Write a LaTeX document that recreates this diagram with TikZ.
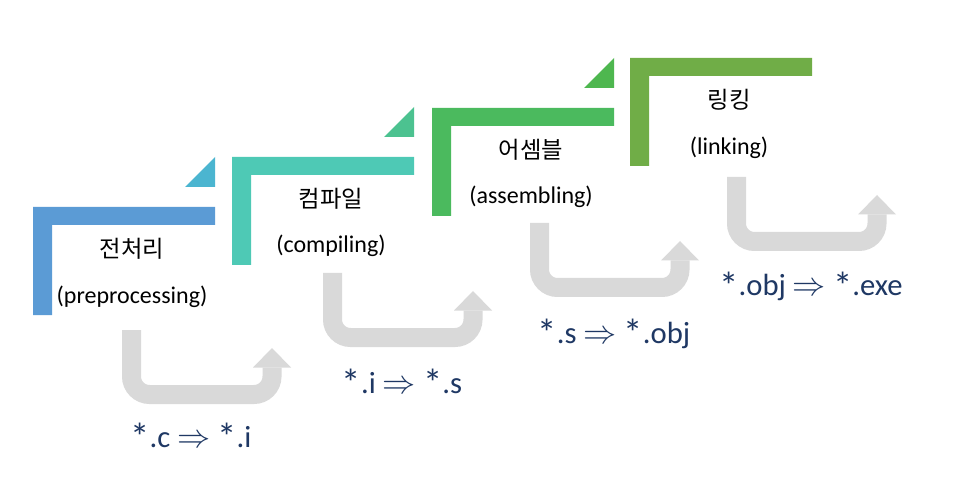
\documentclass[tikz,border=0pt]{standalone}
\usepackage{fontspec}
\setmainfont{Carlito}
\newfontfamily\krfont{Noto Sans CJK KR}
\definecolor{cA}{HTML}{5B9BD5}
\definecolor{tA}{HTML}{4BB5D0}
\definecolor{cB}{HTML}{4EC9B5}
\definecolor{tB}{HTML}{4CC290}
\definecolor{cC}{HTML}{4BBA5E}
\definecolor{tC}{HTML}{4EB74F}
\definecolor{cD}{HTML}{70AD47}
\definecolor{arrgray}{HTML}{D9D9D9}
\definecolor{lblblue}{HTML}{1F3864}
\newcommand\bigstar{\lower0.1em\hbox{\fontsize{29pt}{29pt}\selectfont *}}
\tikzset{
  krtext/.style={anchor=base, inner sep=0pt, font=\krfont\fontsize{17.5pt}{20pt}\selectfont},
  entext/.style={anchor=base, inner sep=0pt, font=\fontsize{18pt}{21pt}\selectfont},
  lbltext/.style={anchor=base, inner sep=0pt, text=lblblue, font=\fontsize{23pt}{27pt}\selectfont},
  ushaft/.style={draw=arrgray, line width=14.25pt, rounded corners=13.5pt},
  uhead/.style={fill=arrgray},
}
\newcommand\stepblock[3]{% x0, y0, colour
  \begin{scope}[shift={(#1,#2)}]
    \fill[#3] (0,0) -- (182,0) -- (182,18) -- (19,18) -- (19,108) -- (0,108) -- cycle;
  \end{scope}}
\newcommand\steptri[3]{%
  \begin{scope}[shift={(#1,#2)}]
    \fill[#3] (152,-20) -- (182,-20) -- (182,-50) -- cycle;
  \end{scope}}
\newcommand\uturn[3]{% L, T, name
  \begin{scope}[shift={(#1,#2)}]
    \coordinate (#3s) at (9.5,0);
    \coordinate (#3e) at (150,37.5);
    \draw[ushaft] (#3s) -- (9.5,64.5) -- (150,64.5) -- (#3e);
    \fill[uhead] (131,37.5) -- (169,37.5) -- (150,18) -- cycle;
  \end{scope}}
\begin{document}
\begin{tikzpicture}[x=0.75pt,y=-0.75pt]
\useasboundingbox (0,0) rectangle (960,495);
\fill[white] (0,0) rectangle (960,495);
% steps
\steptri{33}{207}{tA}
\steptri{232}{157}{tB}
\steptri{432}{108}{tC}
\stepblock{33}{207}{cA}
\stepblock{232}{157}{cB}
\stepblock{432}{108}{cC}
\stepblock{630}{58}{cD}
% texts
\node[krtext] (k1) at (132,258) {전처리};
\node[entext] (e1) at (132,303) {(preprocessing)};
\node[krtext] (k2) at (331,208) {컴파일};
\node[entext] (e2) at (331,253) {(compiling)};
\node[krtext] (k3) at (531,159) {어셈블};
\node[entext] (e3) at (531,204) {(assembling)};
\node[krtext] (k4) at (729,109) {링킹};
\node[entext] (e4) at (729,155) {(linking)};
% u-turn arrows
\uturn{122}{330}{a}
\uturn{323}{273}{b}
\uturn{530}{223}{c}
\uturn{727}{177}{d}
% labels
\node[lbltext] (l1) at (191,447) {\bigstar.c $\Rightarrow$ \bigstar.i};
\node[lbltext] (l2) at (402,393) {\bigstar.i $\Rightarrow$ \bigstar.s};
\node[lbltext] (l3) at (614,343) {\bigstar.s $\Rightarrow$ \bigstar.obj};
\node[lbltext] (l4) at (811,296) {\bigstar.obj $\Rightarrow$ \bigstar.exe};
\end{tikzpicture}
\end{document}
